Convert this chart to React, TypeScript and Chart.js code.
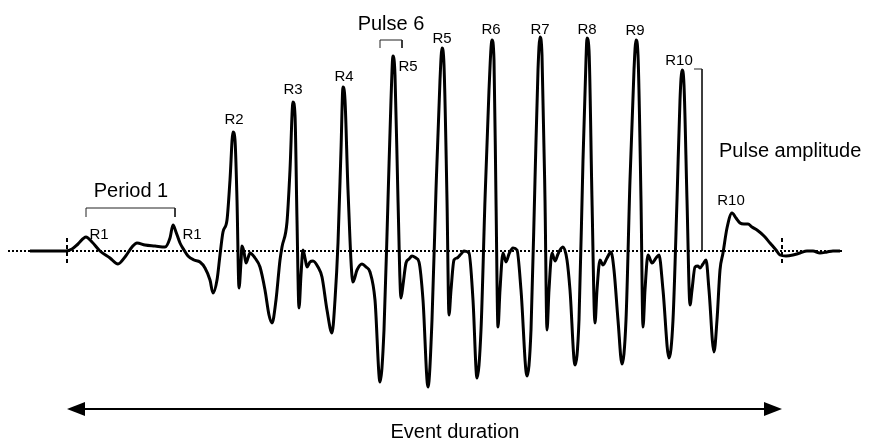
import React, { useEffect, useRef } from "react";
import { Chart, registerables } from "chart.js";

Chart.register(...registerables);

// Waveform: time (arbitrary units) and amplitude (relative to baseline)
const waveTime = [
  30, 50, 66, 72, 78, 86, 92, 100, 110, 118, 125, 132, 137, 145, 155, 165, 170, 173, 176, 180,
  184, 188, 194, 200, 205, 210, 213, 217, 220, 223, 227, 230, 233, 235, 237, 239, 241, 242, 244, 246,
  248, 250, 255, 260, 265, 269, 272, 276, 280, 282, 287, 290, 293, 295, 297, 299, 301, 303, 305, 307,
  310, 313, 318, 322, 327, 332, 335, 338, 341, 343, 345, 348, 353, 357, 362, 366, 370, 375, 380, 384,
  388, 391, 393, 395, 398, 401, 403, 406, 409, 412, 416, 419, 423, 428, 432, 436, 440, 442, 444, 447,
  449, 451, 454, 457, 461, 464, 469, 473, 477, 481, 485, 489, 492, 494, 496, 498, 500, 503, 506, 509,
  513, 517, 521, 527, 531, 535, 538, 540, 542, 545, 547, 549, 552, 555, 558, 560, 563, 567, 570, 575,
  579, 583, 586, 587, 589, 592, 595, 597, 600, 603, 607, 611, 614, 618, 622, 626, 630, 634, 636, 638,
  641, 643, 645, 648, 652, 656, 659, 663, 669, 673, 677, 680, 682, 684, 687, 690, 692, 695, 698, 700,
  703, 706, 709, 714, 717, 720, 723, 727, 732, 736, 740, 744, 748, 752, 757, 764, 770, 776, 780, 786,
  793, 800, 807, 813, 820, 827, 833, 840,
];
const waveAmp = [
  0, 0, 0, 2, 7, 14, 9, 0, -7, -13, -6, 4, 8, 6, 5, 4, 13, 26, 19, 8,
  1, -5, -9, -11, -17, -29, -42, -29, -4, 19, 31, 71, 119, 111, 51, -37, -11, 5, -1, -12,
  -7, -2, -7, -16, -39, -64, -72, -49, -9, 4, 29, 81, 149, 136, 31, -57, -24, 1, -7, -16,
  -11, -10, -16, -26, -59, -82, -49, 8, 101, 164, 151, 61, -31, -19, -13, -16, -21, -49, -131, -79,
  51, 151, 195, 176, 51, -47, -34, -12, -8, -5, -7, -11, -49, -136, -69, 61, 171, 203, 186, 51,
  -64, -39, -9, -7, -3, 0, -2, -49, -127, -79, 51, 161, 211, 191, 51, -76, -39, -2, -11, -3,
  3, 1, -39, -125, -79, 71, 181, 214, 196, 51, -79, -39, -2, -10, -3, 1, 4, -9, -39, -114,
  -69, 91, 191, 213, 201, 51, -72, -39, -9, -14, -7, -1, -19, -69, -113, -69, 71, 181, 211, 196,
  51, -76, -39, -4, -12, -7, -4, -39, -107, -69, 51, 151, 181, 166, 51, -54, -39, -16, -15, -17,
  -13, -9, -39, -101, -69, -19, -2, 23, 38, 33, 28, 27, 27, 24, 21, 15, 8, 1, -4, -5,
  -4, -2, 0, 0, -2, -1, 0, 0,
];

// Baseline extent
const baselineTime = [8, 843];

// Event boundaries (dashed markers) and their vertical extent
const eventStart = 67;
const eventEnd = 782;
const markerAmp = [13, -14];

// Peak labels
const peakLabelText = ["R1", "R1", "R2", "R3", "R4", "R5", "R5", "R6", "R7", "R8", "R9", "R10", "R10"];
const peakLabelTime = [99, 192, 234, 293, 344, 408, 442, 491, 540, 587, 635, 679, 731];
const peakLabelAmp = [12, 12, 127, 157, 170, 180, 208, 217, 217, 217, 216, 186, 46];

// Brackets: [startTime, endTime], [legAmp, topAmp]
const periodBracketTime = [86, 175];
const periodBracketAmp = [34, 43];
const pulseBracketTime = [380, 402];
const pulseBracketAmp = [203, 211];
const amplitudeBracketTime = [694, 702];
const amplitudeBracketAmp = [182, 0];

// Event duration arrow
const durationAmp = -158;

// Captions
const captionText = ["Period 1", "Pulse 6", "Pulse amplitude", "Event duration"];
const captionTime = [131, 391, 719, 455];
const captionAmp = [54, 221, 94, -187];
const captionAlign = ["center", "center", "left", "center"];

const FONT = "'Liberation Sans', Arial, sans-serif";

export default function App() {
  const ref = useRef<HTMLCanvasElement | null>(null);

  useEffect(() => {
    if (!ref.current) return;

    const annotations = {
      id: "annotations",
      afterDatasetsDraw(chart: any) {
        const ctx = chart.ctx;
        const xs = chart.scales.x;
        const ys = chart.scales.y;
        ctx.save();
        ctx.fillStyle = "#000";
        ctx.textBaseline = "alphabetic";
        // peak labels
        ctx.font = `15px ${FONT}`;
        ctx.textAlign = "center";
        peakLabelText.forEach((t, i) => {
          ctx.fillText(t, xs.getPixelForValue(peakLabelTime[i]), ys.getPixelForValue(peakLabelAmp[i]));
        });
        // captions
        ctx.font = `20px ${FONT}`;
        captionText.forEach((t, i) => {
          ctx.textAlign = captionAlign[i] as CanvasTextAlign;
          ctx.fillText(t, xs.getPixelForValue(captionTime[i]), ys.getPixelForValue(captionAmp[i]));
        });
        // arrow heads
        const yA = ys.getPixelForValue(durationAmp);
        const x0 = xs.getPixelForValue(eventStart);
        const x1 = xs.getPixelForValue(eventEnd);
        ctx.beginPath();
        ctx.moveTo(x0, yA);
        ctx.lineTo(x0 + 18, yA - 7);
        ctx.lineTo(x0 + 18, yA + 7);
        ctx.closePath();
        ctx.fill();
        ctx.beginPath();
        ctx.moveTo(x1, yA);
        ctx.lineTo(x1 - 18, yA - 7);
        ctx.lineTo(x1 - 18, yA + 7);
        ctx.closePath();
        ctx.fill();
        ctx.restore();
      },
    };

    const pts = (xs: number[], ys: number[]) => xs.map((x, i) => ({ x, y: ys[i] }));

    const chart = new Chart(ref.current, {
      type: "line",
      data: {
        datasets: [
          {
            data: pts(baselineTime, [0, 0]),
            borderColor: "#000",
            borderWidth: 2,
            borderDash: [2, 2],
            pointRadius: 0,
          },
          {
            data: pts(waveTime, waveAmp),
            borderColor: "#000",
            borderWidth: 3,
            cubicInterpolationMode: "monotone",
            pointRadius: 0,
          },
          {
            data: pts([eventStart, eventStart], markerAmp),
            borderColor: "#000",
            borderWidth: 2,
            borderDash: [4, 3],
            pointRadius: 0,
          },
          {
            data: pts([eventEnd, eventEnd], markerAmp),
            borderColor: "#000",
            borderWidth: 2,
            borderDash: [4, 3],
            pointRadius: 0,
          },
          {
            data: pts(
              [periodBracketTime[0], periodBracketTime[0], periodBracketTime[1], periodBracketTime[1]],
              [periodBracketAmp[0], periodBracketAmp[1], periodBracketAmp[1], periodBracketAmp[0]]
            ),
            borderColor: "#222",
            borderWidth: 1,
            pointRadius: 0,
          },
          {
            data: pts(
              [pulseBracketTime[0], pulseBracketTime[0], pulseBracketTime[1], pulseBracketTime[1]],
              [pulseBracketAmp[0], pulseBracketAmp[1], pulseBracketAmp[1], pulseBracketAmp[0]]
            ),
            borderColor: "#222",
            borderWidth: 1,
            pointRadius: 0,
          },
          {
            data: pts(
              [amplitudeBracketTime[0], amplitudeBracketTime[1], amplitudeBracketTime[1]],
              [amplitudeBracketAmp[0], amplitudeBracketAmp[0], amplitudeBracketAmp[1]]
            ),
            borderColor: "#222",
            borderWidth: 1,
            pointRadius: 0,
          },
          {
            data: pts([eventStart + 10, eventEnd - 10], [durationAmp, durationAmp]),
            borderColor: "#000",
            borderWidth: 2,
            pointRadius: 0,
          },
        ],
      },
      options: {
        animation: false,
        responsive: false,
        events: [],
        layout: { padding: 0 },
        plugins: { legend: { display: false }, tooltip: { enabled: false } },
        scales: {
          x: { type: "linear", min: 0, max: 869, display: false },
          y: { type: "linear", min: -192, max: 251, display: false },
        },
      },
      plugins: [annotations],
    });
    return () => chart.destroy();
  }, []);

  return (
    <div style={{ position: "absolute", left: 0, top: 0, width: 869, height: 443, background: "#fff" }}>
      <canvas ref={ref} width={869} height={443} />
    </div>
  );
}
